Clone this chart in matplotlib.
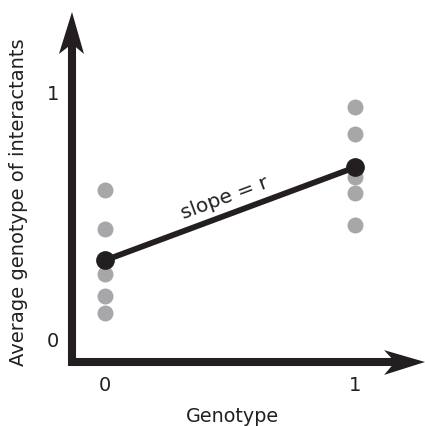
"""
Schematic: regression of interactant genotype on own genotype (slope = r).
"""

import matplotlib
matplotlib.use("Agg")
import matplotlib.pyplot as plt
import numpy as np

# genotype classes and the interactant values
GENOTYPES = [0, 1]
INTERACT_0 = [0.600, 0.443, 0.259, 0.170, 0.101]
INTERACT_1 = [0.936, 0.826, 0.651, 0.586, 0.456]
TICK_LABELS = ["0", "1"]

DARK = "#231f20"
GRAY = "#a7a7a9"

plt.rcParams["font.family"] = ["DejaVu Sans"]

fig = plt.figure(figsize=(4.25, 4.27), dpi=100)
# axes frame: left edge at the vertical arrow, bottom edge at the horizontal arrow
ax = fig.add_axes([72 / 425, 64 / 427, 353 / 425, 350 / 427])
ax.set_xlim(-0.132, 1.28)
ax.set_ylim(-0.097, 1.320)
for side in ax.spines.values():
    side.set_visible(False)

# raw points
for g, vals in zip(GENOTYPES, [INTERACT_0, INTERACT_1]):
    ax.plot([g] * len(vals), vals, "o", color=GRAY, ms=11.5, mec="none", zorder=2)

# means and the line between them
means = [np.mean(INTERACT_0), np.mean(INTERACT_1)]
ax.plot(GENOTYPES, means, "-", color=DARK, lw=4.2, zorder=3)
ax.plot(GENOTYPES, means, "o", color=DARK, ms=13.5, mec="none", zorder=4)

# "slope = r" label, drawn along the line
p0 = ax.transData.transform((GENOTYPES[0], means[0]))
p1 = ax.transData.transform((GENOTYPES[1], means[1]))
angle = np.degrees(np.arctan2(p1[1] - p0[1], p1[0] - p0[0]))
ax.text(0.48, 0.57, "slope = r", rotation=angle, rotation_mode="anchor",
        ha="center", va="center", fontsize=14.5, color=DARK)

# thick axis arrows with notched heads (axes-fraction coordinates)
lw_axis = 5.8
ax.plot([-0.012, 0.92], [0, 0], color=DARK, lw=lw_axis, solid_capstyle="butt",
        transform=ax.transAxes, clip_on=False, zorder=5)
ax.plot([0, 0], [-0.011, 0.92], color=DARK, lw=lw_axis, solid_capstyle="butt",
        transform=ax.transAxes, clip_on=False, zorder=5)
ax.fill([1.0, 0.884, 0.915, 0.884], [0, 0.034, 0, -0.037], color=DARK,
        transform=ax.transAxes, clip_on=False, zorder=6, lw=0)
ax.fill([0, -0.037, 0, 0.034], [1.0, 0.88, 0.909, 0.88], color=DARK,
        transform=ax.transAxes, clip_on=False, zorder=6, lw=0)

ax.set_xticks(GENOTYPES)
ax.set_xticklabels(TICK_LABELS)
ax.set_yticks(GENOTYPES)
ax.set_yticklabels(TICK_LABELS)
ax.tick_params(length=0, labelsize=14, labelcolor=DARK)
ax.tick_params(axis="x", pad=9.5)
ax.tick_params(axis="y", pad=9)

ax.set_xlabel("Genotype", fontsize=13.8, color=DARK)
ax.set_ylabel("Average genotype of interactants", fontsize=14, color=DARK)
ax.xaxis.set_label_coords(0.455, -0.125)
ax.yaxis.set_label_coords(-0.125, 0.46)

fig.savefig("out.png", dpi=100)
